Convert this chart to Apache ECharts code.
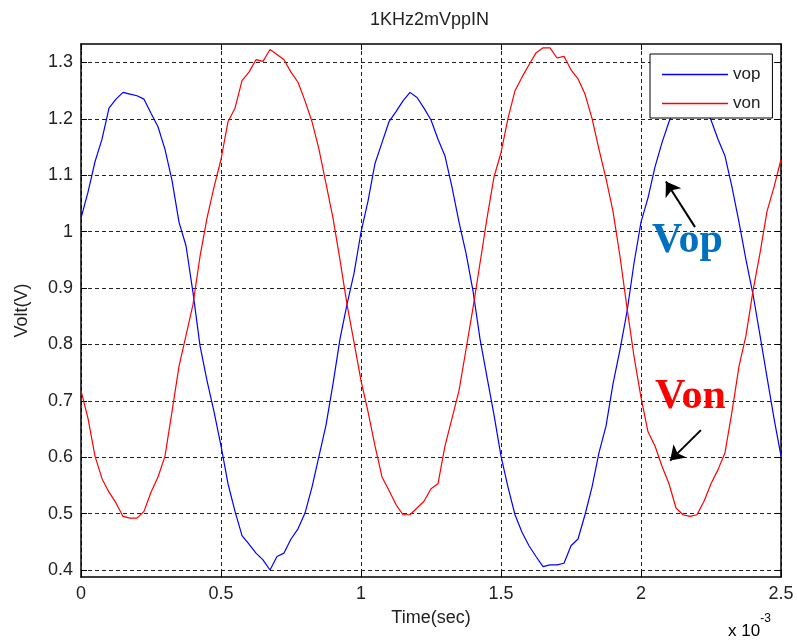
<!DOCTYPE html>
<html>
<head>
<meta charset="utf-8">
<script src="https://cdn.jsdelivr.net/npm/echarts@6/dist/echarts.min.js"></script>
<style>
  html, body { margin: 0; padding: 0; background: #fff; }
  #chart { width: 797px; height: 642px; }
</style>
</head>
<body>
<div id="chart"></div>
<script>
// time in ms (axis shows x 10^-3 sec)
const timeMs = [
  0, 0.025, 0.05, 0.075, 0.1, 0.125, 0.15, 0.175, 0.2, 0.225,
  0.25, 0.275, 0.3, 0.325, 0.35, 0.375, 0.4, 0.425, 0.45, 0.475,
  0.5, 0.525, 0.55, 0.575, 0.6, 0.625, 0.65, 0.675, 0.7, 0.725,
  0.75, 0.775, 0.8, 0.825, 0.85, 0.875, 0.9, 0.925, 0.95, 0.975,
  1, 1.025, 1.05, 1.075, 1.1, 1.125, 1.15, 1.175, 1.2, 1.225,
  1.25, 1.275, 1.3, 1.325, 1.35, 1.375, 1.4, 1.425, 1.45, 1.475,
  1.5, 1.525, 1.55, 1.575, 1.6, 1.625, 1.65, 1.675, 1.7, 1.725,
  1.75, 1.775, 1.8, 1.825, 1.85, 1.875, 1.9, 1.925, 1.95, 1.975,
  2, 2.025, 2.05, 2.075, 2.1, 2.125, 2.15, 2.175, 2.2, 2.225,
  2.25, 2.275, 2.3, 2.325, 2.35, 2.375, 2.4, 2.425, 2.45, 2.475,
  2.5
];

const vop = [
  1.024, 1.070, 1.124, 1.164, 1.219, 1.235, 1.247, 1.244, 1.241, 1.235,
  1.210, 1.186, 1.146, 1.091, 1.017, 0.975, 0.892, 0.798, 0.736, 0.681,
  0.620, 0.553, 0.504, 0.461, 0.446, 0.430, 0.418, 0.400, 0.424, 0.430,
  0.455, 0.473, 0.501, 0.547, 0.602, 0.657, 0.730, 0.810, 0.871, 0.926,
  0.999, 1.054, 1.121, 1.158, 1.195, 1.213, 1.232, 1.247, 1.238, 1.219,
  1.198, 1.164, 1.134, 1.079, 1.017, 0.962, 0.895, 0.810, 0.742, 0.675,
  0.602, 0.547, 0.498, 0.467, 0.443, 0.424, 0.406, 0.409, 0.409, 0.412,
  0.443, 0.455, 0.498, 0.547, 0.608, 0.655, 0.730, 0.791, 0.858, 0.944,
  1.017, 1.060, 1.115, 1.158, 1.195, 1.225, 1.240, 1.245, 1.240, 1.225,
  1.198, 1.164, 1.134, 1.079, 1.017, 0.950, 0.889, 0.816, 0.742, 0.669,
  0.602
];

const von = [
  0.718, 0.669, 0.602, 0.562, 0.538, 0.519, 0.495, 0.492, 0.492, 0.504,
  0.538, 0.565, 0.602, 0.681, 0.761, 0.816, 0.871, 0.956, 1.024, 1.079,
  1.128, 1.195, 1.219, 1.268, 1.283, 1.305, 1.302, 1.323, 1.314, 1.305,
  1.283, 1.265, 1.232, 1.195, 1.146, 1.085, 1.024, 0.950, 0.871, 0.804,
  0.736, 0.681, 0.620, 0.565, 0.541, 0.516, 0.498, 0.498, 0.510, 0.522,
  0.544, 0.553, 0.620, 0.669, 0.718, 0.791, 0.865, 0.944, 1.024, 1.097,
  1.140, 1.201, 1.250, 1.274, 1.296, 1.317, 1.326, 1.326, 1.308, 1.311,
  1.287, 1.271, 1.244, 1.201, 1.146, 1.094, 1.036, 0.956, 0.865, 0.779,
  0.706, 0.645, 0.620, 0.584, 0.553, 0.510, 0.498, 0.495, 0.498, 0.522,
  0.553, 0.578, 0.608, 0.681, 0.761, 0.816, 0.895, 0.962, 1.036, 1.079,
  1.128
];

const yTicks = [0.4, 0.5, 0.6, 0.7, 0.8, 0.9, 1, 1.1, 1.2, 1.3];

const chart = echarts.init(document.getElementById('chart'), null, { renderer: 'canvas' });

const font = 'Liberation Sans, Arial, sans-serif';
const gridDash = { color: '#222', width: 1, type: [4, 3] };
const tickStyle = { inside: true, length: 6, lineStyle: { color: '#000' } };

const vopPts = timeMs.map((t, i) => [t, vop[i]]);
const vonPts = timeMs.map((t, i) => [t, von[i]]);

const option = {
  animation: false,
  backgroundColor: '#fff',
  title: {
    text: '1KHz2mVppIN',
    left: 365, top: 6,
    textStyle: { fontFamily: font, fontSize: 18, fontWeight: 'normal', color: '#222' }
  },
  legend: {
    orient: 'vertical',
    left: 650, top: 54,
    padding: [12, 12, 6, 12],
    itemGap: 12,
    itemWidth: 66, itemHeight: 1.5,
    icon: 'rect',
    backgroundColor: '#fff',
    borderColor: '#000', borderWidth: 1,
    textStyle: { fontFamily: font, fontSize: 17, color: '#222' },
    data: ['vop', 'von']
  },
  grid: { left: 81, right: 16, top: 44, bottom: 65 },
  xAxis: [{
    type: 'value', min: 0, max: 2.5, interval: 0.5,
    name: 'Time(sec)', nameLocation: 'middle', nameGap: 32,
    nameTextStyle: { fontFamily: font, fontSize: 18, color: '#222' },
    axisLine: { lineStyle: { color: '#000', width: 1.5 } },
    axisTick: tickStyle,
    axisLabel: { fontFamily: font, fontSize: 18, color: '#222', margin: 8 },
    splitLine: { show: true, lineStyle: gridDash }
  }, {
    type: 'value', min: 0, max: 2.5, interval: 0.5, position: 'top',
    axisLine: { onZero: false, lineStyle: { color: '#000', width: 1.5 } },
    axisTick: tickStyle, axisLabel: { show: false }, splitLine: { show: false }
  }],
  yAxis: [{
    type: 'value', min: 0.3876, max: 1.3328,
    name: 'Volt(V)', nameLocation: 'middle', nameGap: 50,
    nameTextStyle: { fontFamily: font, fontSize: 18, color: '#222' },
    axisLine: { show: true, lineStyle: { color: '#000', width: 1.5 } },
    axisTick: Object.assign({ customValues: yTicks }, tickStyle),
    axisLabel: {
      customValues: yTicks, fontFamily: font, fontSize: 18, color: '#222', margin: 8,
      formatter: v => String(+v.toFixed(1))
    },
    splitLine: { show: true, lineStyle: gridDash }
  }, {
    type: 'value', min: 0.3876, max: 1.3328, position: 'right',
    axisLine: { show: true, onZero: false, lineStyle: { color: '#000', width: 1.5 } },
    axisTick: Object.assign({ customValues: yTicks }, tickStyle),
    axisLabel: { show: false }, splitLine: { show: false }
  }],
  series: [{
    name: 'vop', type: 'line', data: vopPts, symbol: 'none',
    lineStyle: { color: '#0000ff', width: 1.2 }, itemStyle: { color: '#0000ff' },
    emphasis: { disabled: true },
    markLine: {
      silent: true, symbol: ['none', 'arrow'], symbolSize: 14,
      label: { show: false },
      lineStyle: { color: '#000', width: 2, type: 'solid' },
      emphasis: { disabled: true },
      data: [
        [{ coord: [2.193, 1.008] }, { coord: [2.089, 1.089] }],
        [{ coord: [2.214, 0.648] }, { coord: [2.104, 0.594] }]
      ]
    }
  }, {
    name: 'von', type: 'line', data: vonPts, symbol: 'none',
    lineStyle: { color: '#ff0000', width: 1.2 }, itemStyle: { color: '#ff0000' },
    emphasis: { disabled: true }
  }],
  graphic: [
    {
      type: 'text', left: 652, top: 220, z: 10,
      style: { text: 'Vop', fill: '#0070c0', font: 'bold 42px "Liberation Serif", "Times New Roman", serif' }
    },
    {
      type: 'text', left: 655, top: 376, z: 10,
      style: { text: 'Von', fill: '#ff0000', font: 'bold 42px "Liberation Serif", "Times New Roman", serif' }
    },
    {
      type: 'text', left: 728, top: 613, z: 10,
      style: {
        text: '{a|x 10}{b|-3}',
        rich: {
          a: { fontFamily: font, fontSize: 17, color: '#222', padding: [10, 0, 0, 0] },
          b: { fontFamily: font, fontSize: 12, color: '#222', verticalAlign: 'top' }
        }
      }
    }
  ]
};

chart.setOption(option);
</script>
</body>
</html>
